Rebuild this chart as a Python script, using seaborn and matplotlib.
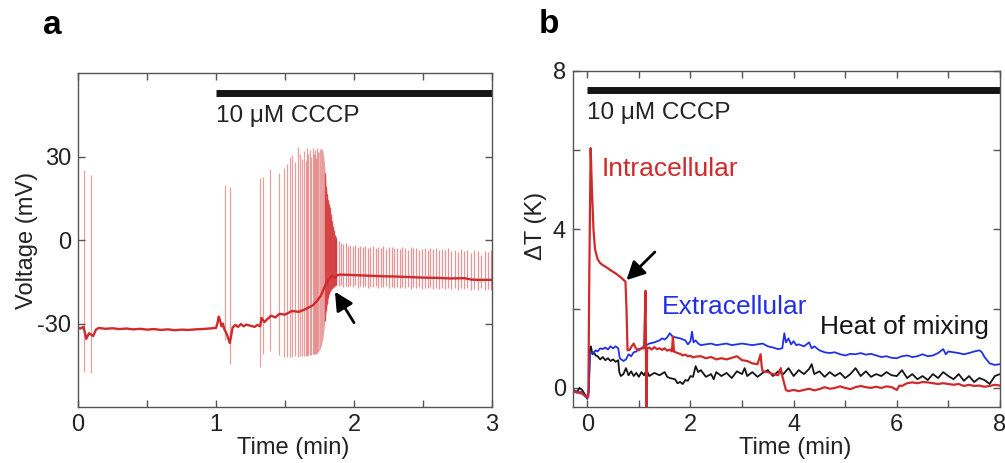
import numpy as np
import pandas as pd
import matplotlib
matplotlib.use("Agg")
import matplotlib.pyplot as plt
from matplotlib.ticker import MultipleLocator, FixedLocator
import seaborn as sns

# ---------------- Panel a data ----------------
base_t = [0.00, 0.02, 0.04, 0.06, 0.08, 0.11, 0.13, 0.15, 0.20, 0.25, 0.30, 0.35, 0.40, 0.45,
          0.50, 0.55, 0.60, 0.65, 0.70, 0.75, 0.80, 0.85, 0.90, 0.95, 1.00, 1.01, 1.02, 1.03,
          1.04, 1.05, 1.06, 1.08, 1.10, 1.12, 1.14, 1.16, 1.18, 1.20, 1.22, 1.25, 1.28, 1.30,
          1.32, 1.33, 1.35, 1.37, 1.40, 1.43, 1.46, 1.50, 1.55, 1.60, 1.65, 1.70, 1.73, 1.76,
          1.78, 1.80, 1.82, 1.84, 1.86, 1.88, 1.90, 2.00, 2.10, 2.20, 2.30, 2.40, 2.50, 2.60,
          2.70, 2.80, 2.85, 2.90, 3.00]
base_v = [-31.5, -31.8, -31.2, -35.5, -33.5, -34.5, -32.2, -31.6, -31.9, -31.7, -32.0, -31.8, -32.1, -31.9,
          -32.2, -32.0, -32.3, -32.1, -32.4, -32.2, -32.3, -32.1, -32.0, -31.8, -31.6, -30.0, -27.5, -29.0,
          -31.0, -30.0, -32.0, -34.0, -37.0, -31.5, -30.5, -31.2, -30.2, -31.0, -30.4, -30.8, -31.2, -30.5,
          -31.0, -28.0, -29.5, -28.5, -27.2, -27.8, -26.5, -26.8, -25.5, -25.8, -24.8, -23.5, -22.0, -20.0,
          -17.5, -15.5, -14.0, -12.8, -13.5, -12.6, -12.4, -12.6, -12.8, -13.0, -13.1, -13.3, -13.5, -13.6,
          -13.8, -13.7, -14.2, -14.3, -14.3]

pre_t = [0.046, 0.094, 1.065, 1.100, 1.319, 1.343, 1.391, 1.459, 1.493, 1.517, 1.536, 1.553, 1.575, 1.592,
         1.609, 1.625, 1.638, 1.650, 1.660, 1.670, 1.681, 1.690, 1.700, 1.708, 1.716, 1.724, 1.731, 1.738]
pre_top = [25.1, 23.4, 19.8, 19.2, 22.3, 22.7, 25.7, 24.0, 25.9, 27.5, 29.9, 30.5, 28.0, 33.5,
           31.0, 29.0, 32.0, 28.5, 33.0, 31.0, 32.5, 30.0, 33.0, 31.0, 32.5, 29.5, 33.0, 31.5]
pre_bot = [-47.3, -47.8, -36.0, -44.5, -45.5, -41.0, -40.0, -41.3, -41.9, -41.9, -42.0, -42.0, -41.5, -42.0,
           -41.8, -41.5, -41.8, -41.5, -41.6, -41.4, -41.3, -41.2, -41.0, -41.0, -40.8, -40.8, -40.5, -40.2]

# dense burst envelope (core) and its decaying tail
burst_t = [1.745, 1.755, 1.765, 1.775, 1.785, 1.795, 1.805, 1.815, 1.825, 1.835, 1.845, 1.855, 1.865, 1.872]
burst_top = [31.5, 33.0, 32.8, 32.0, 28.0, 22.0, 17.0, 14.0, 11.5, 8.5, 5.5, 3.0, 1.5, 0.5]
burst_bot = [-40.0, -39.0, -37.5, -35.0, -31.0, -27.0, -23.5, -20.5, -18.5, -17.5, -17.0, -16.5, -16.2, -16.0]

tail_t = [1.790, 1.797, 1.804, 1.811, 1.818, 1.825, 1.832, 1.839, 1.846, 1.853, 1.860, 1.866]
tail_top = [24.0, 19.0, 16.5, 14.5, 13.0, 12.0, 9.5, 7.0, 5.0, 3.5, 2.0, 1.0]
tail_bot = [-29.0, -25.5, -23.0, -21.0, -19.5, -18.8, -18.0, -17.5, -17.2, -16.8, -16.5, -16.3]

post_t = [1.872, 1.889, 1.905, 1.922, 1.939, 1.956, 1.973, 1.990,
          2.008, 2.026, 2.044, 2.062, 2.081, 2.099, 2.118, 2.137,
          2.156, 2.175, 2.194, 2.213, 2.233, 2.252, 2.272, 2.291,
          2.311, 2.330, 2.350, 2.370, 2.390, 2.410, 2.430, 2.451,
          2.471, 2.492, 2.512, 2.533, 2.554, 2.575, 2.597, 2.618,
          2.640, 2.662, 2.684, 2.706, 2.729, 2.752, 2.775, 2.798,
          2.822, 2.846, 2.870, 2.895, 2.920, 2.946, 2.972, 2.995]
post_top = [0.5, -0.5, -1.0, -1.5, -1.2, -2.0, -1.8, -2.2,
            -1.6, -2.5, -2.0, -2.6, -2.2, -2.8, -2.4, -2.0,
            -3.0, -2.5, -2.8, -2.2, -3.2, -2.6, -2.4, -3.0,
            -2.7, -3.3, -2.5, -2.9, -3.4, -2.6, -3.0, -2.8,
            -3.5, -3.1, -2.7, -3.6, -3.0, -3.3, -2.9, -3.7,
            -3.2, -3.5, -3.0, -3.8, -3.4, -4.2, -3.3, -3.9,
            -3.6, -4.5, -3.5, -4.0, -5.2, -3.8, -4.4, -3.6]
post_bot = [-16.2, -16.6, -16.0, -16.8, -16.4, -17.0, -16.5, -16.9,
            -16.3, -17.1, -16.6, -16.8, -16.4, -17.2, -16.7, -16.9,
            -16.5, -17.3, -16.8, -17.0, -16.6, -17.2, -16.9, -17.1,
            -16.7, -17.4, -16.9, -17.2, -16.8, -17.5, -17.0, -17.3,
            -16.9, -17.5, -17.1, -17.4, -17.0, -17.6, -17.2, -17.5,
            -17.1, -17.7, -17.3, -17.6, -17.2, -17.8, -17.4, -17.7,
            -17.3, -17.9, -17.5, -17.8, -17.4, -18.0, -17.6, -17.8]

a_xticks = [0, 1, 2, 3]
a_yticks = [-30, 0, 30]

# ---------------- Panel b data ----------------
intra_t = [-0.28, -0.20, -0.12, -0.05, 0.00, 0.02, 0.04, 0.065, 0.09, 0.12, 0.15, 0.20, 0.25, 0.30,
           0.35, 0.40, 0.45, 0.50, 0.55, 0.60, 0.65, 0.70, 0.74, 0.76, 0.78, 0.82, 0.86, 0.90,
           0.94, 1.00, 1.05, 1.10, 1.13, 1.145, 1.16, 1.20, 1.25, 1.30, 1.35, 1.40, 1.45, 1.50,
           1.55, 1.60, 1.64, 1.66, 1.68, 1.75, 1.80, 1.85, 1.90, 1.95, 2.00, 2.05, 2.10, 2.20,
           2.30, 2.40, 2.50, 2.60, 2.70, 2.80, 2.90, 3.00, 3.10, 3.20, 3.30, 3.36, 3.38, 3.40,
           3.50, 3.60, 3.70, 3.75, 3.78, 3.80, 3.85, 3.90, 4.00, 4.10, 4.20, 4.30, 4.40, 4.50,
           4.60, 4.70, 4.80, 4.90, 5.00, 5.10, 5.20, 5.30, 5.40, 5.50, 5.60, 5.70, 5.80, 5.90,
           6.00, 6.05, 6.10, 6.20, 6.30, 6.40, 6.50, 6.60, 6.70, 6.80, 6.90, 7.00, 7.10, 7.20,
           7.30, 7.40, 7.50, 7.60, 7.70, 7.80, 7.90, 8.00]
intra_v = [-0.08, -0.12, -0.10, -0.20, -0.25, -0.20, 3.00, 6.05, 5.00, 4.00, 3.50, 3.25, 3.15, 3.10,
           3.06, 3.02, 2.97, 2.93, 2.89, 2.84, 2.79, 2.73, 2.68, 2.00, 0.95, 0.96, 1.05, 1.12,
           1.00, 0.95, 1.00, 1.00, 2.45, -0.70, 1.00, 1.02, 0.97, 1.03, 0.98, 1.00, 0.96, 1.00,
           0.94, 0.97, 0.92, 1.30, 0.92, 0.88, 0.86, 0.82, 0.84, 0.80, 0.81, 0.77, 0.79, 0.80,
           0.75, 0.78, 0.72, 0.75, 0.72, 0.76, 0.80, 0.70, 0.68, 0.62, 0.60, 0.85, 0.55, 0.42,
           0.40, 0.35, 0.32, 0.50, 0.30, 0.20, -0.05, -0.08, -0.05, -0.08, -0.05, -0.02, -0.06, -0.03,
           0.02, -0.02, 0.00, 0.04, 0.00, -0.03, 0.02, 0.05, 0.02, 0.00, 0.03, 0.00, 0.04, 0.02,
           -0.05, 0.06, 0.05, 0.12, 0.14, 0.12, 0.15, 0.14, 0.12, 0.10, 0.12, 0.10, 0.08, 0.10,
           0.05, 0.08, 0.05, 0.06, 0.03, 0.05, 0.08, 0.06]

extra_t = [-0.28, -0.20, -0.10, -0.03, 0.00, 0.03, 0.05, 0.08, 0.12, 0.16, 0.20, 0.25, 0.30, 0.35,
           0.40, 0.45, 0.50, 0.55, 0.60, 0.63, 0.66, 0.70, 0.75, 0.80, 0.85, 0.90, 0.95, 1.00,
           1.05, 1.10, 1.15, 1.20, 1.30, 1.40, 1.45, 1.50, 1.55, 1.60, 1.65, 1.70, 1.80, 1.90,
           1.95, 2.00, 2.03, 2.06, 2.10, 2.15, 2.20, 2.30, 2.40, 2.50, 2.60, 2.70, 2.80, 2.90,
           3.00, 3.10, 3.20, 3.30, 3.40, 3.50, 3.60, 3.70, 3.78, 3.82, 3.85, 3.90, 3.95, 4.00,
           4.05, 4.10, 4.20, 4.30, 4.35, 4.40, 4.50, 4.60, 4.70, 4.80, 4.90, 5.00, 5.10, 5.20,
           5.30, 5.40, 5.50, 5.60, 5.70, 5.80, 5.90, 6.00, 6.10, 6.20, 6.30, 6.40, 6.50, 6.60,
           6.70, 6.80, 6.90, 6.95, 7.00, 7.10, 7.20, 7.30, 7.40, 7.50, 7.60, 7.65, 7.70, 7.75,
           7.80, 7.90, 8.00]
extra_v = [-0.05, -0.10, -0.15, -0.20, -0.28, -0.10, 0.85, 0.90, 0.88, 0.95, 0.92, 1.00, 0.98, 1.02,
           0.97, 1.05, 1.00, 1.05, 1.00, 0.75, 0.72, 0.68, 0.72, 0.85, 0.80, 0.90, 0.92, 0.98,
           1.00, 1.05, 1.08, 1.12, 1.15, 1.20, 1.25, 1.22, 1.28, 1.38, 1.30, 1.28, 1.25, 1.20,
           1.10, 1.18, 1.42, 1.15, 1.20, 1.12, 1.08, 1.10, 1.12, 1.08, 1.10, 1.12, 1.08, 1.10,
           1.12, 1.10, 1.08, 1.10, 1.12, 1.05, 1.02, 0.98, 1.00, 1.38, 1.15, 1.25, 1.10, 1.18,
           1.08, 1.10, 1.05, 1.15, 1.00, 1.05, 0.95, 0.90, 0.88, 0.90, 0.85, 0.82, 0.86, 0.85,
           0.88, 0.84, 0.86, 0.82, 0.78, 0.80, 0.76, 0.75, 0.80, 0.82, 0.78, 0.80, 0.85, 0.80,
           0.82, 0.88, 0.98, 0.85, 0.92, 0.90, 0.88, 0.85, 0.88, 0.92, 0.95, 0.90, 0.78, 0.70,
           0.62, 0.58, 0.60]

mix_t = [-0.28, -0.20, -0.15, -0.10, -0.03, 0.00, 0.03, 0.05, 0.07, 0.10, 0.13, 0.16, 0.20, 0.25,
         0.30, 0.35, 0.40, 0.45, 0.50, 0.55, 0.60, 0.62, 0.65, 0.70, 0.75, 0.80, 0.85, 0.90,
         0.95, 1.00, 1.05, 1.10, 1.15, 1.20, 1.30, 1.40, 1.50, 1.55, 1.60, 1.70, 1.75, 1.80,
         1.85, 1.90, 1.95, 2.00, 2.05, 2.10, 2.15, 2.20, 2.30, 2.40, 2.45, 2.50, 2.60, 2.70,
         2.80, 2.90, 3.00, 3.05, 3.10, 3.20, 3.30, 3.40, 3.50, 3.60, 3.70, 3.80, 3.90, 4.00,
         4.10, 4.20, 4.30, 4.35, 4.40, 4.50, 4.60, 4.70, 4.80, 4.90, 5.00, 5.10, 5.20, 5.30,
         5.40, 5.50, 5.60, 5.70, 5.80, 5.90, 6.00, 6.10, 6.20, 6.30, 6.40, 6.50, 6.60, 6.70,
         6.80, 6.90, 7.00, 7.10, 7.20, 7.30, 7.40, 7.50, 7.60, 7.70, 7.80, 7.90, 8.00]
mix_v = [-0.05, -0.10, 0.00, -0.05, -0.20, -0.25, 0.00, 0.95, 1.05, 0.85, 0.90, 0.82, 0.80, 0.72,
         0.78, 0.70, 0.75, 0.68, 0.72, 0.66, 0.70, 0.40, 0.30, 0.35, 0.50, 0.32, 0.42, 0.30,
         0.38, 0.28, 0.40, 0.32, 0.45, 0.30, 0.38, 0.32, 0.40, 0.28, 0.25, 0.22, 0.12, 0.15,
         0.10, 0.20, 0.18, 0.30, 0.28, 0.55, 0.40, 0.45, 0.28, 0.35, 0.22, 0.40, 0.30, 0.38,
         0.25, 0.42, 0.35, 0.50, 0.30, 0.40, 0.28, 0.38, 0.45, 0.30, 0.42, 0.35, 0.50, 0.30,
         0.45, 0.35, 0.48, 0.60, 0.35, 0.42, 0.28, 0.40, 0.30, 0.38, 0.25, 0.35, 0.50, 0.30,
         0.42, 0.28, 0.35, 0.30, 0.40, 0.32, 0.30, 0.45, 0.25, 0.35, 0.22, 0.30, 0.20, 0.35,
         0.25, 0.40, 0.30, 0.22, 0.35, 0.18, 0.30, 0.15, 0.25, 0.20, 0.10, 0.30, 0.35]

b_xticks = [0, 2, 4, 6, 8]
b_yticks = [0, 4, 8]

# ---------------- Style ----------------
sns.set_style("ticks")
plt.rcParams['font.family'] = ['Liberation Sans', 'DejaVu Sans']
plt.rcParams['axes.unicode_minus'] = False

RED = '#cf2a2c'
BLUE = '#2230e6'
BLACK = '#151515'
TXT = '#222222'
SPINE = '#555555'

fig = plt.figure(figsize=(10.05, 4.63), dpi=100)
axA = fig.add_axes([0.0776, 0.121, 0.412, 0.721])
axB = fig.add_axes([0.570, 0.121, 0.425, 0.726])

def style_axes(ax):
    for s in ax.spines.values():
        s.set_visible(True)
        s.set_color(SPINE)
        s.set_linewidth(1.0)
    ax.tick_params(which='both', direction='in', top=True, right=True,
                   length=5, width=1.0, color=SPINE, labelsize=17, labelcolor=TXT, pad=5)

# ---------------- Panel a ----------------
axA.vlines(pre_t, pre_bot, pre_top, color=RED, alpha=0.45, lw=0.9)
axA.vlines(post_t, post_bot, post_top, color=RED, alpha=0.5, lw=0.9)
axA.fill_between(burst_t, burst_bot, burst_top, color=RED, alpha=0.45, lw=0)
axA.vlines(tail_t, tail_bot, tail_top, color=RED, alpha=0.7, lw=1.0)
sns.lineplot(x=base_t, y=base_v, ax=axA, color=RED, lw=1.7, estimator=None, sort=False)

axA.set_xlim(0, 3)
axA.set_ylim(-60, 60)
axA.xaxis.set_major_locator(FixedLocator(a_xticks))
axA.xaxis.set_minor_locator(MultipleLocator(0.5))
axA.yaxis.set_major_locator(FixedLocator(a_yticks))
axA.set_xticklabels([str(v) for v in a_xticks])
axA.set_yticklabels([str(v) for v in a_yticks])
style_axes(axA)
axA.set_xlabel('Time (min)', fontsize=17, color=TXT)
axA.set_ylabel('Voltage (mV)', fontsize=17, color=TXT)
axA.xaxis.set_label_coords(0.52, -0.09)
axA.yaxis.set_label_coords(-0.097, 0.5)

axA.plot([1, 3], [52.7, 52.7], color=BLACK, lw=5, solid_capstyle='butt', clip_on=False)
axA.text(1.0, 44.5, '10 \u03bcM CCCP', fontsize=17.5, color=TXT, ha='left', va='center')
axA.annotate('', xy=(1.862, -18.6), xytext=(2.0, -29.7),
             arrowprops=dict(arrowstyle='-|>,head_length=0.55,head_width=0.28',
                             color='black', lw=2.0, mutation_scale=20, shrinkA=0, shrinkB=0))

# ---------------- Panel b ----------------
sns.lineplot(x=mix_t, y=mix_v, ax=axB, color=BLACK, lw=1.3, estimator=None, sort=False)
sns.lineplot(x=extra_t, y=extra_v, ax=axB, color=BLUE, lw=1.3, estimator=None, sort=False)
sns.lineplot(x=intra_t, y=intra_v, ax=axB, color=RED, lw=1.6, estimator=None, sort=False)

axB.set_xlim(-0.28, 8)
axB.set_ylim(-0.48, 8)
axB.xaxis.set_major_locator(FixedLocator(b_xticks))
axB.xaxis.set_minor_locator(MultipleLocator(1))
axB.yaxis.set_major_locator(FixedLocator(b_yticks))
axB.yaxis.set_minor_locator(MultipleLocator(2))
axB.set_xticklabels([str(v) for v in b_xticks])
axB.set_yticklabels([str(v) for v in b_yticks])
style_axes(axB)
axB.set_xlabel('Time (min)', fontsize=17, color=TXT)
axB.set_ylabel('\u0394T (K)', fontsize=17, color=TXT)
axB.xaxis.set_label_coords(0.52, -0.09)
axB.yaxis.set_label_coords(-0.06, 0.54)

axB.plot([0, 8], [7.52, 7.52], color=BLACK, lw=5, solid_capstyle='butt', clip_on=False)
axB.text(0.0, 6.94, '10 \u03bcM CCCP', fontsize=17.5, color=TXT, ha='left', va='center')
axB.text(0.28, 5.53, 'Intracellular', fontsize=19, color=RED, ha='left', va='center')
axB.text(1.45, 2.04, 'Extracellular', fontsize=19, color=BLUE, ha='left', va='center')
axB.text(4.52, 1.53, 'Heat of mixing', fontsize=19, color=BLACK, ha='left', va='center')
axB.annotate('', xy=(0.76, 2.72), xytext=(1.31, 3.43),
             arrowprops=dict(arrowstyle='-|>,head_length=0.55,head_width=0.28',
                             color='black', lw=2.0, mutation_scale=20, shrinkA=0, shrinkB=0))

fig.text(0.043, 0.946, 'a', fontsize=24, fontweight='bold', color='black', ha='left', va='center')
fig.text(0.536, 0.948, 'b', fontsize=24, fontweight='bold', color='black', ha='left', va='center')

fig.savefig('out.png', dpi=100)
